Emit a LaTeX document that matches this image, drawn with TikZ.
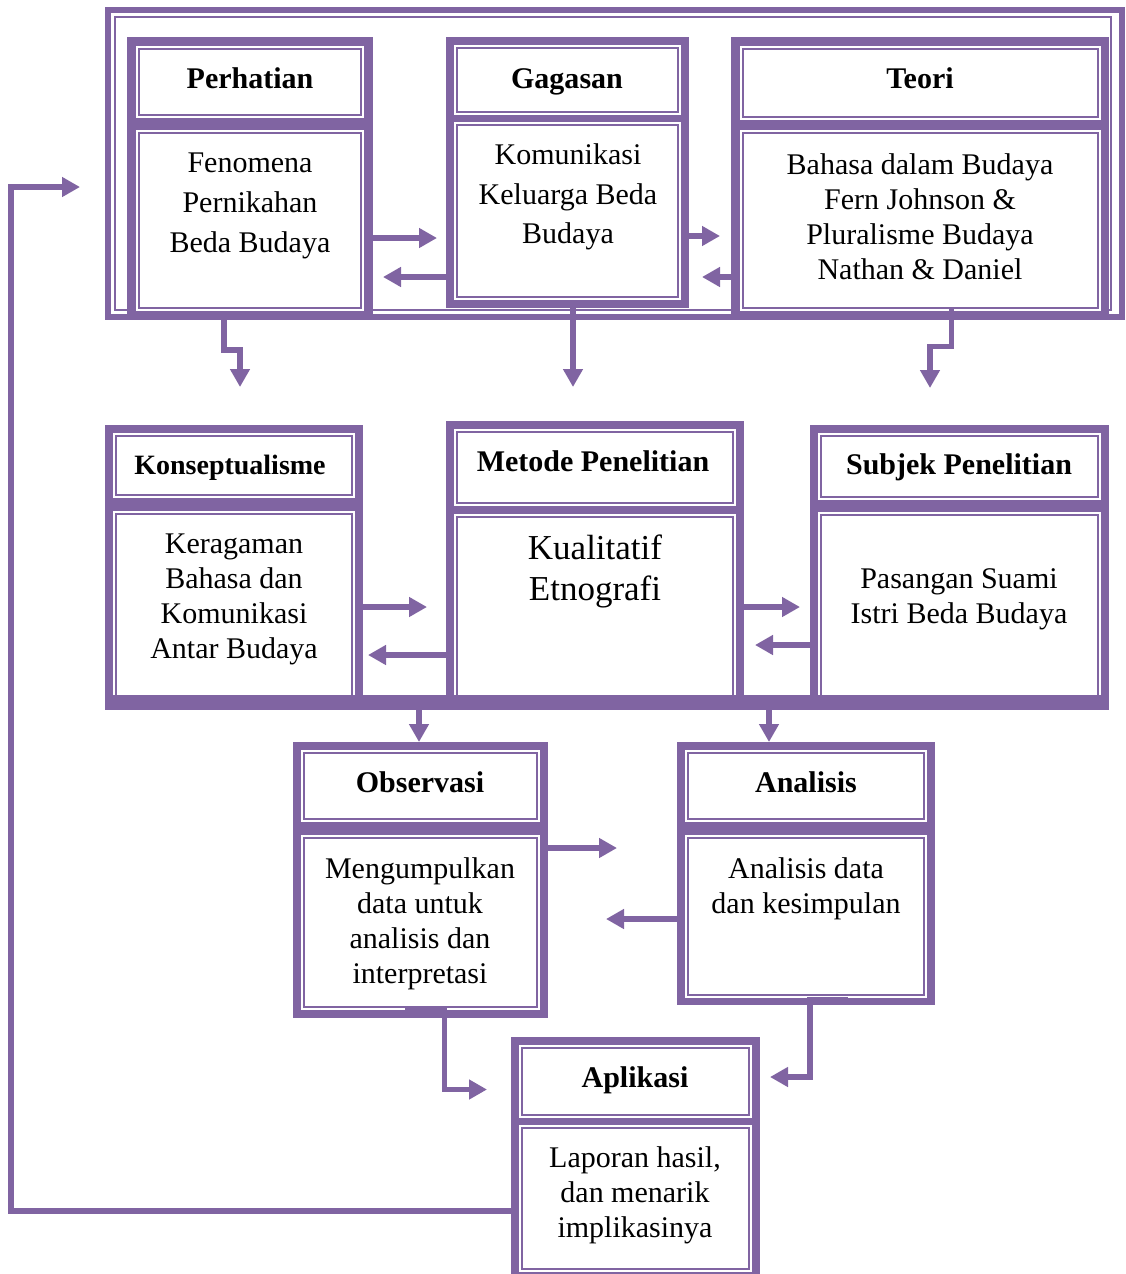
\documentclass[tikz,border=0pt]{standalone}
\usepackage{fontspec}
\setmainfont{Liberation Serif}
\usetikzlibrary{arrows.meta, fit}

\definecolor{ungu}{HTML}{8064A2}

\tikzset{
    kartu/.style={fill=ungu, inner sep=0pt, outer sep=0pt},
    panel/.style={draw=ungu, line width=0.75pt, fill=white, inner sep=0pt, outer sep=0pt,
        preaction={draw=white, line width=3pt}},
    judul/.style={font=\bfseries\fontsize{15}{18}\selectfont},
    isi/.style={align=center, font=\fontsize{15}{17.5}\selectfont},
    panah/.style={draw=ungu, line width=2.75pt, -{Triangle[length=9pt, width=9.5pt]}},
}

\begin{document}
\begin{tikzpicture}[x=0.5pt, y=-0.5pt]
\useasboundingbox (0,0) rectangle (1125,1274);
\clip (0,0) rectangle (1125,1274);

% outer frame round the first row
\draw[ungu, line width=3pt] (108,10) rectangle (1122,317);
\draw[ungu, line width=0.75pt] (115,17) rectangle (1111,310);

% first row
\node[kartu, fit={(127,37) (373,320)}] (perhatianBox) {};
\node[panel, fit={(139,49) (361,115)}] (perhatianHead) {};
\node[panel, fit={(139,133) (361,308)}] (perhatianBody) {};

\node[kartu, fit={(446,37) (689,308)}] (gagasanBox) {};
\node[panel, fit={(457,48) (678,112)}] (gagasanHead) {};
\node[panel, fit={(457,125) (678,297)}] (gagasanBody) {};

\node[kartu, fit={(731,37) (1109,320)}] (teoriBox) {};
\node[panel, fit={(743,49) (1098,117)}] (teoriHead) {};
\node[panel, fit={(743,133) (1098,308)}] (teoriBody) {};

% second row
\node[kartu, fit={(105,425) (363,710)}] (konsepBox) {};
\node[panel, fit={(116,436) (352,495)}] (konsepHead) {};
\node[panel, fit={(116,514) (352,699)}] (konsepBody) {};

\node[kartu, fit={(446,421) (744,710)}] (metodeBox) {};
\node[panel, fit={(457,432) (733,503)}] (metodeHead) {};
\node[panel, fit={(457,517) (733,699)}] (metodeBody) {};

\node[kartu, fit={(810,425) (1109,710)}] (subjekBox) {};
\node[panel, fit={(821,436) (1098,497)}] (subjekHead) {};
\node[panel, fit={(821,515) (1098,699)}] (subjekBody) {};

\fill[ungu] (105,695) rectangle (1109,710);

% third row
\node[kartu, fit={(293,742) (548,1018)}] (observasiBox) {};
\node[panel, fit={(304,753) (537,819)}] (observasiHead) {};
\node[panel, fit={(304,838) (537,1007)}] (observasiBody) {};

\node[kartu, fit={(677,742) (935,1005)}] (analisisBox) {};
\node[panel, fit={(688,753) (924,819)}] (analisisHead) {};
\node[panel, fit={(688,838) (924,995)}] (analisisBody) {};

\node[kartu, fit={(511,1037) (760,1282)}] (aplikasiBox) {};
\node[panel, fit={(522,1048) (749,1115)}] (aplikasiHead) {};
\node[panel, fit={(522,1128) (749,1269)}] (aplikasiBody) {};

% texts
\node[judul] (perhatianTitle) at (250,78) {Perhatian};
\node[isi, font=\fontsize{15}{20}\selectfont] (perhatianText) at (250,206) {Fenomena\\Pernikahan\\Beda Budaya};
\node[judul] (gagasanTitle) at (567,82) {Gagasan};
\node[isi, font=\fontsize{15}{19.75}\selectfont] (gagasanText) at (568,197) {Komunikasi\\Keluarga Beda\\Budaya};
\node[judul] (teoriTitle) at (920,78) {Teori};
\node[isi] (teoriText) at (920,217) {Bahasa dalam Budaya\\Fern Johnson \&\\Pluralisme Budaya\\Nathan \& Daniel};

\node[judul, font=\bfseries\fontsize{14}{17}\selectfont] (konsepTitle) at (230,468) {Konseptualisme};
\node[isi] (konsepText) at (234,599) {Keragaman\\Bahasa dan\\Komunikasi\\Antar Budaya};
\node[judul] (metodeTitle) at (593,461) {Metode Penelitian};
\node[isi, font=\fontsize{17.5}{20.5}\selectfont] (metodeText) at (595,571) {Kualitatif\\Etnografi};
\node[judul] (subjekTitle) at (959,467) {Subjek Penelitian};
\node[isi] (subjekText) at (959,599) {Pasangan Suami\\Istri Beda Budaya};

\node[judul] (observasiTitle) at (420,782) {Observasi};
\node[isi] (observasiText) at (420,924) {Mengumpulkan\\data untuk\\analisis dan\\interpretasi};
\node[judul] (analisisTitle) at (806,782) {Analisis};
\node[isi] (analisisText) at (806,889) {Analisis data\\dan kesimpulan};
\node[judul] (aplikasiTitle) at (635,1080) {Aplikasi};
\node[isi] (aplikasiText) at (635,1195) {Laporan hasil,\\dan menarik\\implikasinya};

% arrows, first row
\coordinate (gagasanIn) at (437,238);
\coordinate (perhatianIn) at (383,277);
\coordinate (teoriIn) at (720,236);
\coordinate (gagasanIn2) at (702,277);
\draw[panah] (perhatianBox.east |- gagasanIn) -- (gagasanIn);
\draw[panah] (gagasanBox.west |- perhatianIn) -- (perhatianIn);
\draw[panah] (gagasanBox.east |- teoriIn) -- (teoriIn);
\draw[panah] (teoriBox.west |- gagasanIn2) -- (gagasanIn2);

\coordinate (perhatianBend) at (224,350);
\coordinate (konsepIn) at (240,387);
\coordinate (metodeIn) at (573,387);
\coordinate (teoriBend) at (951.5,346.5);
\coordinate (subjekIn) at (930,388);
\draw[panah] (perhatianBox.south -| perhatianBend) -- (perhatianBend) -| (konsepIn);
\draw[panah] (gagasanBox.south -| metodeIn) -- (metodeIn);
\draw[panah] (teoriBody.south -| teoriBend) -- (teoriBend) -| (subjekIn);

% arrows, second row
\coordinate (metodeIn2) at (427,607);
\coordinate (konsepIn2) at (368,655);
\coordinate (subjekIn2) at (800,607);
\coordinate (metodeIn3) at (755,645);
\draw[panah] (konsepBox.east |- metodeIn2) -- (metodeIn2);
\draw[panah] (metodeBox.west |- konsepIn2) -- (konsepIn2);
\draw[panah] (metodeBox.east |- subjekIn2) -- (subjekIn2);
\draw[panah] (subjekBox.west |- metodeIn3) -- (metodeIn3);

\coordinate (observasiIn) at (419,742);
\coordinate (analisisIn) at (769,742);
\draw[panah] (observasiIn |- konsepBox.south) -- (observasiIn);
\draw[panah] (analisisIn |- metodeBox.south) -- (analisisIn);

% arrows, third row
\coordinate (analisisIn2) at (617,848);
\coordinate (observasiIn2) at (606,919);
\draw[panah] (observasiBox.east |- analisisIn2) -- (analisisIn2);
\draw[panah] (analisisBox.west |- observasiIn2) -- (observasiIn2);

\coordinate (observasiOut) at (405,1011);
\coordinate (observasiDrop) at (444.5,1089.5);
\coordinate (aplikasiIn) at (487,1089.5);
\draw[panah] (observasiOut) -| (observasiDrop) -- (aplikasiIn);

\coordinate (analisisOut) at (848,1000);
\coordinate (analisisDrop) at (810,1077);
\coordinate (aplikasiIn2) at (770,1077);
\draw[panah] (analisisOut) -| (analisisDrop) -- (aplikasiIn2);

% back to the start
\coordinate (baliCorner) at (11,1211);
\coordinate (baliIn) at (80,187);
\draw[panah] (aplikasiBox.west |- baliCorner) -- (baliCorner) |- (baliIn);

\end{tikzpicture}
\end{document}
